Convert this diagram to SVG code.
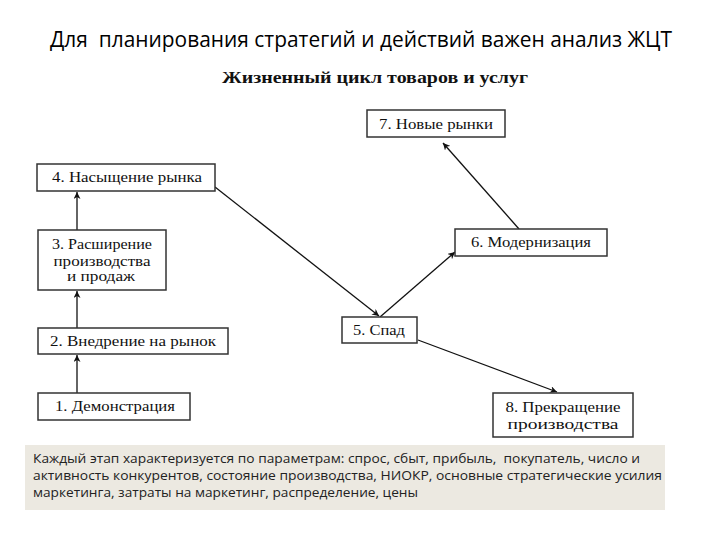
<svg xmlns="http://www.w3.org/2000/svg" width="720" height="540" viewBox="0 0 720 540">
<defs>
<marker id="ah" viewBox="0 0 10 10" refX="10" refY="5" markerWidth="7" markerHeight="7" orient="auto" markerUnits="userSpaceOnUse">
<path d="M0,0 L10,5 L0,10 L3,5 Z" fill="#111"/>
</marker>
<style>
.box{fill:#fff;stroke:#333;stroke-width:1.5}
.t{font-family:"Liberation Serif","Times New Roman",serif;font-size:14px;fill:#111;text-anchor:middle}
.c{stroke:#111;stroke-width:1.3;fill:none;marker-end:url(#ah)}
.note{font-family:"Open Sans","Noto Sans","Liberation Sans",sans-serif;font-size:13px;fill:#222;white-space:pre}
</style>
</defs>
<rect width="720" height="540" fill="#fff"/>
<text x="50" y="47" font-family="Open Sans, Noto Sans, Liberation Sans, sans-serif" font-size="21" fill="#000" style="white-space:pre" textLength="622" lengthAdjust="spacingAndGlyphs">Для  планирования стратегий и действий важен анализ ЖЦТ</text>
<text x="222" y="83" font-family="Liberation Serif, Times New Roman, serif" font-size="17" font-weight="bold" fill="#111" textLength="306" lengthAdjust="spacingAndGlyphs">Жизненный цикл товаров и услуг</text>

<g id="connectors">
<line class="c" x1="77" y1="393" x2="77" y2="355"/>
<line class="c" x1="77" y1="328" x2="77" y2="291"/>
<line class="c" x1="77" y1="230" x2="77" y2="192"/>
<line class="c" x1="215" y1="187" x2="379" y2="316"/>
<line class="c" x1="380" y1="317" x2="455" y2="252"/>
<line class="c" x1="519" y1="229" x2="443" y2="143"/>
<line class="c" x1="418" y1="340" x2="557" y2="392"/>
</g>

<g id="n1"><rect class="box" x="38" y="393" width="152" height="27"/><text class="t" x="115" y="411" textLength="120" lengthAdjust="spacingAndGlyphs">1. Демонстрация</text></g>
<g id="n2"><rect class="box" x="38" y="328" width="190" height="26"/><text class="t" x="133" y="346" textLength="166" lengthAdjust="spacingAndGlyphs">2. Внедрение на рынок</text></g>
<g id="n3"><rect class="box" x="38" y="230" width="128" height="60"/>
<text class="t" x="102" y="249" textLength="100" lengthAdjust="spacingAndGlyphs">3. Расширение</text>
<text class="t" x="102" y="266" textLength="97" lengthAdjust="spacingAndGlyphs">производства</text>
<text class="t" x="101" y="281" textLength="68" lengthAdjust="spacingAndGlyphs">и продаж</text></g>
<g id="n4"><rect class="box" x="37" y="164" width="178" height="27"/><text class="t" x="127" y="182" textLength="150" lengthAdjust="spacingAndGlyphs">4. Насыщение рынка</text></g>
<g id="n5"><rect class="box" x="342" y="317" width="75" height="26"/><text class="t" x="379" y="335" textLength="52" lengthAdjust="spacingAndGlyphs">5. Спад</text></g>
<g id="n6"><rect class="box" x="455" y="229" width="152" height="27"/><text class="t" x="531" y="247" textLength="120" lengthAdjust="spacingAndGlyphs">6. Модернизация</text></g>
<g id="n7"><rect class="box" x="367" y="110" width="138" height="27"/><text class="t" x="436" y="129" textLength="114" lengthAdjust="spacingAndGlyphs">7. Новые рынки</text></g>
<g id="n8"><rect class="box" x="493" y="393" width="140" height="44"/>
<text class="t" x="563" y="412" textLength="115" lengthAdjust="spacingAndGlyphs">8. Прекращение</text>
<text class="t" x="563" y="429" textLength="111" lengthAdjust="spacingAndGlyphs">производства</text></g>

<g id="note">
<rect x="25" y="445" width="640" height="65" fill="#ece9e1"/>
<text class="note" x="33" y="463" textLength="607" lengthAdjust="spacingAndGlyphs">Каждый этап характеризуется по параметрам: спрос, сбыт, прибыль,  покупатель, число и</text>
<text class="note" x="33" y="480" textLength="629" lengthAdjust="spacingAndGlyphs">активность конкурентов, состояние производства, НИОКР, основные стратегические усилия</text>
<text class="note" x="33" y="497" textLength="385" lengthAdjust="spacingAndGlyphs">маркетинга, затраты на маркетинг, распределение, цены</text>
</g>
</svg>
